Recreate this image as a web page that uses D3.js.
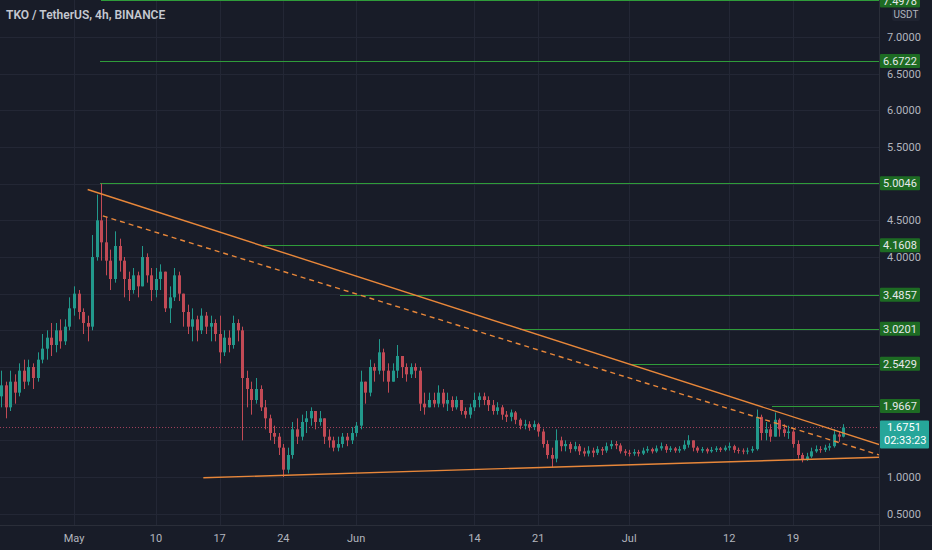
<!DOCTYPE html>
<html>
<head>
<meta charset="utf-8">
<script src="https://cdn.jsdelivr.net/npm/d3@7"></script>
<style>
  html, body { margin: 0; padding: 0; background: #181c28; overflow: hidden; }
  svg { display: block; }
</style>
</head>
<body>
<div id="chart"></div>
<script>
// 12h candles starting 2021-04-23 00:00 UTC, open = previous close
var startDate = Date.UTC(2021, 3, 23);
var firstOpen = 2.1;

var closes = [
  2.25, 1.95, 2.3, 2.15, 2.45, 2.3, 2.5, 2.35, 2.6, 2.75,
  2.9, 2.8, 3.0, 2.85, 3.05, 3.3, 3.5, 3.25, 3.1, 3.05,
  4.0, 4.5, 4.2, 3.95, 3.7, 4.15, 3.95, 3.7, 3.55, 3.75,
  3.6, 4.0, 3.75, 3.55, 3.7, 3.8, 3.3, 3.45, 3.75, 3.5,
  3.25, 3.05, 3.15, 3.0, 3.2, 3.05, 3.1, 2.95, 2.7, 2.9,
  2.8, 3.1, 3.0, 2.35, 2.2, 2.05, 2.2, 1.95, 1.8, 1.6,
  1.55, 1.4, 1.1, 1.3, 1.65, 1.55, 1.75, 1.8, 1.9, 1.75,
  1.8, 1.55, 1.5, 1.4, 1.45, 1.55, 1.5, 1.6, 1.7, 2.3,
  2.15, 2.5, 2.45, 2.7, 2.45, 2.3, 2.45, 2.65, 2.5, 2.4,
  2.5, 2.45, 2.0, 1.95, 2.05, 2.0, 2.15, 2.0, 2.05, 1.95,
  2.05, 1.9, 1.85, 1.95, 2.05, 2.1, 2.05, 1.98, 1.9, 1.95,
  1.85, 1.82, 1.88, 1.78, 1.7, 1.72, 1.68, 1.72, 1.62, 1.45,
  1.3, 1.25, 1.5, 1.42, 1.45, 1.38, 1.42, 1.35, 1.32, 1.36,
  1.33, 1.38, 1.36, 1.42, 1.45, 1.43, 1.35, 1.33, 1.32, 1.34,
  1.32, 1.36, 1.38, 1.35, 1.39, 1.42, 1.37, 1.39, 1.36, 1.38,
  1.44, 1.5, 1.4, 1.36, 1.38, 1.35, 1.37, 1.39, 1.37, 1.4,
  1.42, 1.37, 1.36, 1.35, 1.36, 1.38, 1.82, 1.6, 1.65, 1.55,
  1.78, 1.65, 1.6, 1.62, 1.45, 1.3, 1.24, 1.28, 1.35, 1.38,
  1.37, 1.4, 1.42, 1.58, 1.55, 1.6751
];
var highs = [
  2.45, 2.3, 2.45, 2.4, 2.55, 2.6, 2.6, 2.55, 2.7, 2.95,
  3.0, 3.1, 3.1, 3.15, 3.15, 3.45, 3.6, 3.55, 3.3, 3.2,
  4.3, 4.85, 5.0, 4.55, 4.1, 4.35, 4.25, 4.0, 3.8, 3.85,
  3.8, 4.15, 4.05, 3.85, 3.85, 3.9, 3.8, 3.6, 3.85, 3.8,
  3.5, 3.35, 3.3, 3.2, 3.3, 3.25, 3.2, 3.15, 3.2, 3.0,
  3.0, 3.2, 3.15, 3.05, 2.45, 2.3, 2.35, 2.25, 2.05, 1.85,
  1.7, 1.6, 1.45, 1.4, 1.75, 1.8, 1.85, 1.9, 1.95, 1.9,
  1.9, 1.8, 1.65, 1.55, 1.55, 1.6, 1.6, 1.68, 1.75, 2.45,
  2.3, 2.6, 2.55, 2.88, 2.75, 2.55, 2.55, 2.8, 2.65, 2.55,
  2.55, 2.55, 2.5, 2.15, 2.15, 2.15, 2.25, 2.2, 2.15, 2.1,
  2.1, 2.05, 1.95, 2.0, 2.15, 2.15, 2.15, 2.1, 2.05, 2.02,
  1.98, 1.9, 1.92, 1.9, 1.8, 1.78, 1.76, 1.77, 1.74, 1.66,
  1.5, 1.4, 1.65, 1.55, 1.5, 1.48, 1.48, 1.45, 1.4, 1.42,
  1.4, 1.42, 1.41, 1.47, 1.5, 1.49, 1.46, 1.38, 1.37, 1.38,
  1.37, 1.4, 1.42, 1.4, 1.43, 1.47, 1.45, 1.42, 1.41, 1.42,
  1.5, 1.57, 1.5, 1.42, 1.41, 1.4, 1.41, 1.42, 1.41, 1.43,
  1.47, 1.44, 1.4, 1.39, 1.4, 1.42, 1.92, 1.85, 1.75, 1.72,
  1.88, 1.8, 1.72, 1.7, 1.65, 1.5, 1.33, 1.33, 1.4, 1.43,
  1.42, 1.44, 1.46, 1.65, 1.62, 1.72
];
var lows = [
  1.95, 1.8, 1.9, 2.0, 2.1, 2.2, 2.25, 2.2, 2.3, 2.55,
  2.6, 2.65, 2.7, 2.75, 2.8, 3.0, 3.2, 3.15, 2.95, 2.85,
  3.0, 3.95, 3.95, 3.75, 3.55, 3.65, 3.8, 3.45, 3.4, 3.5,
  3.45, 3.6, 3.65, 3.4, 3.45, 3.55, 3.25, 3.1, 3.4, 3.4,
  3.05, 2.95, 2.85, 2.85, 2.95, 2.95, 2.85, 2.85, 2.55, 2.65,
  2.7, 2.75, 2.85, 1.5, 1.95, 1.85, 2.0, 1.9, 1.65, 1.5,
  1.45, 1.3, 1.0, 1.05, 1.25, 1.45, 1.5, 1.6, 1.7, 1.65,
  1.7, 1.45, 1.4, 1.35, 1.35, 1.4, 1.42, 1.45, 1.55, 1.65,
  2.0, 2.1, 2.3, 2.4, 2.3, 2.15, 2.3, 2.35, 2.35, 2.3,
  2.35, 2.35, 1.9, 1.85, 1.95, 1.95, 1.95, 1.95, 1.9, 1.9,
  1.92, 1.85, 1.8, 1.8, 1.9, 1.95, 1.98, 1.9, 1.85, 1.85,
  1.78, 1.75, 1.76, 1.72, 1.65, 1.65, 1.63, 1.64, 1.55, 1.4,
  1.25, 1.13, 1.2, 1.35, 1.35, 1.33, 1.35, 1.3, 1.28, 1.28,
  1.27, 1.3, 1.3, 1.33, 1.38, 1.38, 1.32, 1.29, 1.28, 1.29,
  1.28, 1.3, 1.33, 1.32, 1.33, 1.36, 1.33, 1.34, 1.33, 1.33,
  1.36, 1.4, 1.35, 1.33, 1.33, 1.32, 1.33, 1.34, 1.34, 1.35,
  1.36, 1.33, 1.32, 1.31, 1.31, 1.33, 1.36, 1.5, 1.5, 1.48,
  1.55, 1.55, 1.55, 1.52, 1.4, 1.25, 1.2, 1.22, 1.26, 1.33,
  1.33, 1.34, 1.36, 1.4, 1.48, 1.54
];

// horizontal levels drawn on the chart
var levelValues = [7.4978, 6.6722, 5.0046, 4.1608, 3.4857, 3.0201, 2.5429, 1.9667];
var levelStarts = ["2021-05-04T00:00Z", "2021-05-03T21:00Z", "2021-05-03T21:00Z", "2021-05-21T19:00Z",
                   "2021-05-30T05:00Z", "2021-06-19T00:00Z", "2021-07-01T03:00Z", "2021-07-16T17:00Z"];

// trend lines [start, end]
var upperLine = [["2021-05-02T12:00Z", 4.92], ["2021-07-28T12:00Z", 1.44]];
var midLine = [["2021-05-04T04:00Z", 4.56], ["2021-07-28T12:00Z", 1.30]];
var lowerLine = [["2021-05-15T05:00Z", 0.99], ["2021-07-28T12:00Z", 1.27]];

var timeTicks = ["2021-05-01", "2021-05-10", "2021-05-17", "2021-05-24", "2021-06-01",
                 "2021-06-14", "2021-06-21", "2021-07-01", "2021-07-12", "2021-07-19"];
var timeLabels = ["May", "10", "17", "24", "Jun", "14", "21", "Jul", "12", "19"];
var priceTicks = [0.5, 1.0, 1.5, 2.0, 2.5, 3.0, 3.5, 4.0, 4.5, 5.0, 5.5, 6.0, 6.5, 7.0];

var lastPrice = 1.6751;
var countdown = "02:33:23";
var title = "TKO / TetherUS, 4h, BINANCE";

var W = 932, H = 550;
var plotRight = 879, plotBottom = 525;
var upColor = "#22998c", downColor = "#c24a55";
var levelColor = "#2f9c3a", lineColor = "#e8873a";

var svg = d3.select("#chart").append("svg")
    .attr("width", W)
    .attr("height", H)
    .style("font-family", "Roboto, 'Noto Sans', sans-serif");

svg.append("rect").attr("width", W).attr("height", H).attr("fill", "#181c28");

var x = d3.scaleUtc()
    .domain([new Date("2021-05-01T00:00Z"), new Date("2021-07-19T00:00Z")])
    .range([74, 793]);
var y = d3.scaleLinear()
    .domain([1, 7])
    .range([477, 37]);

var candles = closes.map(function(c, i) {
    var o = i === 0 ? firstOpen : closes[i - 1];
    return {
        date: new Date(startDate + i * 12 * 3600 * 1000),
        open: o, close: c,
        high: Math.max(highs[i], o, c),
        low: Math.min(lows[i], o, c)
    };
});

svg.append("defs").append("clipPath").attr("id", "plot")
  .append("rect").attr("width", plotRight).attr("height", plotBottom);

// grid
var grid = svg.append("g").attr("clip-path", "url(#plot)");
grid.selectAll(".vg")
    .data(timeTicks)
  .enter().append("line")
    .attr("x1", function(d) { return Math.round(x(new Date(d + "T00:00Z"))) + 0.5; })
    .attr("x2", function(d) { return Math.round(x(new Date(d + "T00:00Z"))) + 0.5; })
    .attr("y1", 0).attr("y2", plotBottom)
    .attr("stroke", "#232735");
grid.selectAll(".hg")
    .data(priceTicks)
  .enter().append("line")
    .attr("x1", 0).attr("x2", plotRight)
    .attr("y1", function(d) { return Math.round(y(d)) + 0.5; })
    .attr("y2", function(d) { return Math.round(y(d)) + 0.5; })
    .attr("stroke", "#232735");

var plot = svg.append("g").attr("clip-path", "url(#plot)");

// levels, as 1px filled strips
plot.selectAll(".level")
    .data(levelValues)
  .enter().append("rect")
    .attr("x", function(d, i) { return Math.round(x(new Date(levelStarts[i]))); })
    .attr("width", function(d, i) { return plotRight - Math.round(x(new Date(levelStarts[i]))); })
    .attr("y", function(d) { return Math.round(y(d)); })
    .attr("height", 1)
    .attr("fill", levelColor);

// last price dotted line
plot.append("line")
    .attr("x1", 0).attr("x2", plotRight)
    .attr("y1", Math.round(y(lastPrice)) + 0.5)
    .attr("y2", Math.round(y(lastPrice)) + 0.5)
    .attr("stroke", "#a0405a")
    .attr("stroke-dasharray", "1,2");

// candles
var bw = 3;
var bar = plot.selectAll(".candle")
    .data(candles)
  .enter().append("g")
    .attr("class", "candle");
bar.append("line")
    .attr("x1", function(d) { return Math.round(x(d.date)) + 0.5; })
    .attr("x2", function(d) { return Math.round(x(d.date)) + 0.5; })
    .attr("y1", function(d) { return y(d.high); })
    .attr("y2", function(d) { return y(d.low); })
    .attr("stroke", function(d) { return d.close >= d.open ? upColor : downColor; });
bar.append("rect")
    .attr("x", function(d) { return Math.round(x(d.date)) + 0.5 - bw / 2; })
    .attr("width", bw)
    .attr("y", function(d) { return y(Math.max(d.open, d.close)); })
    .attr("height", function(d) { return Math.max(1, Math.abs(y(d.open) - y(d.close))); })
    .attr("fill", function(d) { return d.close >= d.open ? upColor : downColor; });

// trend lines
function drawLine(pts, dashed) {
    plot.append("line")
        .attr("x1", x(new Date(pts[0][0]))).attr("y1", y(pts[0][1]))
        .attr("x2", x(new Date(pts[1][0]))).attr("y2", y(pts[1][1]))
        .attr("stroke", lineColor)
        .attr("stroke-width", 1.4)
        .attr("stroke-dasharray", dashed ? "5,4" : null);
}
drawLine(upperLine, false);
drawLine(midLine, true);
drawLine(lowerLine, false);

// borders
svg.append("line").attr("x1", plotRight + 0.5).attr("x2", plotRight + 0.5)
    .attr("y1", 0).attr("y2", H).attr("stroke", "#2a2e39");
svg.append("line").attr("x1", 0).attr("x2", W)
    .attr("y1", plotBottom + 0.5).attr("y2", plotBottom + 0.5).attr("stroke", "#2a2e39");

// title
svg.append("text")
    .attr("x", 6).attr("y", 19)
    .attr("fill", "#c5c8d0")
    .attr("font-size", 12)
    .attr("font-weight", 600)
    .text(title);

// time axis
svg.selectAll(".tl")
    .data(timeTicks)
  .enter().append("text")
    .attr("x", function(d) { return x(new Date(d + "T00:00Z")); })
    .attr("y", 542)
    .attr("text-anchor", "middle")
    .attr("fill", "#b2b5be")
    .attr("font-size", 11)
    .text(function(d, i) { return timeLabels[i]; });

// price axis labels, hidden where a level label covers them
var occupied = levelValues.map(function(v) { return y(v); }).concat([y(lastPrice) + 6]);
svg.selectAll(".pl")
    .data(priceTicks.filter(function(p) {
        return occupied.every(function(o) { return Math.abs(y(p) - o) > 10; });
    }))
  .enter().append("text")
    .attr("x", 887).attr("y", function(d) { return y(d) + 4; })
    .attr("fill", "#b2b5be")
    .attr("font-size", 11)
    .text(function(d) { return d.toFixed(4); });

// USDT tag
svg.append("rect").attr("x", 892).attr("y", 8).attr("width", 28).attr("height", 13)
    .attr("rx", 2).attr("fill", "#1f2330");
svg.append("text").attr("x", 906).attr("y", 18).attr("text-anchor", "middle")
    .attr("fill", "#b2b5be").attr("font-size", 10).text("USDT");

// level labels
var lab = svg.selectAll(".ll")
    .data(levelValues)
  .enter().append("g");
lab.append("rect")
    .attr("x", 880).attr("width", 40)
    .attr("y", function(d) { return y(d) - 7; })
    .attr("height", 14)
    .attr("rx", 1)
    .attr("fill", "#1d6b23");
lab.append("text")
    .attr("x", 900).attr("y", function(d) { return y(d) + 4; })
    .attr("text-anchor", "middle")
    .attr("fill", "#e6e8ec")
    .attr("font-size", 11)
    .text(function(d) { return d.toFixed(4); });

// last price tag
var ly = y(lastPrice);
svg.append("rect").attr("x", 880).attr("y", ly - 7).attr("width", 49).attr("height", 28)
    .attr("rx", 1).attr("fill", "#26a69a");
svg.append("text").attr("x", 887).attr("y", ly + 4)
    .attr("fill", "#ffffff").attr("font-size", 11).text(lastPrice.toFixed(4));
svg.append("text").attr("x", 884).attr("y", ly + 17)
    .attr("fill", "#ffffff").attr("font-size", 11).text(countdown);
</script>
</body>
</html>
